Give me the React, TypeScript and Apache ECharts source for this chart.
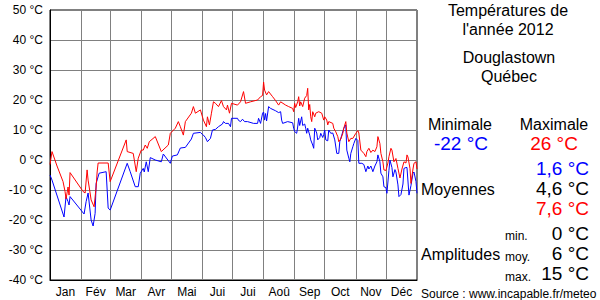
import React, { useEffect, useRef } from "react";
import * as echarts from "echarts";

const monthNames = ["Jan", "Fév", "Mar", "Avr", "Mai", "Jui", "Jui", "Aoû", "Sep", "Oct", "Nov", "Déc"];
const monthStarts = [0, 31, 60, 91, 121, 152, 182, 213, 244, 274, 305, 335, 366];
const yTicks = { min: -40, max: 50, step: 10 };

const maxDays = [0, 2, 7, 13, 15, 16, 18, 19, 20, 33, 35, 37, 38, 40, 41, 44, 46, 47, 48, 58, 60, 76, 77, 83, 86, 88, 91, 93, 95, 97, 99, 105, 111, 118, 120, 125, 128, 130, 133, 135, 141, 143, 145, 150, 153, 156, 157, 159, 161, 163, 165, 168, 171, 173, 176, 177, 179, 181, 187, 190, 193, 195, 200, 207, 210, 212, 213, 214, 216, 218, 222, 225, 228, 230, 235, 238, 242, 243, 244, 245, 247, 248, 249, 250, 252, 254, 256, 257, 258, 259, 260, 261, 262, 264, 265, 268, 271, 273, 274, 276, 277, 278, 282, 283, 285, 287, 288, 290, 292, 293, 295, 296, 298, 300, 302, 305, 307, 308, 310, 313, 315, 316, 318, 320, 322, 324, 326, 327, 329, 330, 332, 333, 335, 337, 338, 340, 341, 343, 345, 347, 349, 351, 353, 355, 356, 357, 359, 360, 362, 363, 365, 366];
const maxVals = [-1.5, 2.8, -2, -7.2, -10.5, -13, -9, -11.7, -4.2, -10.5, -11, -3.3, -6.7, -11, -13.3, -15.6, -9, -4, -1, -1, -7.2, 6.7, 2.8, 2.2, -3.9, 0.6, 3.3, 3.3, 5, 3.9, 6.1, 7.8, 2.8, 5, 8.9, 10.6, 12.8, 11.1, 8.3, 12.8, 15.6, 17.8, 15.6, 16.7, 13.3, 11.1, 14.4, 11.7, 15.6, 19.4, 18.9, 17.8, 19.8, 17.8, 16.7, 18.3, 15.6, 18.9, 18.3, 19.4, 22.8, 18.9, 19.4, 20, 21.1, 21.5, 26, 23.3, 21.7, 22.8, 21.1, 19.8, 18.3, 19.4, 18.3, 17.8, 17.2, 16.1, 18.9, 17.5, 19.4, 21.1, 18, 19.4, 17.8, 20.6, 21.5, 23.9, 16.7, 18.5, 14.4, 12.8, 16.1, 14.4, 15.6, 16.1, 15.6, 13.3, 14.4, 13.3, 11.7, 12.8, 12.2, 10.6, 9.4, 7.8, 6.1, 7, 8.9, 10.6, 12.8, 9, 6.1, 7.2, 7.2, 8.9, 9.8, 9, 3.3, 2.2, 1.1, 2.8, 3.9, 2.5, 3.3, 2.8, 4.4, 7.8, 5.5, 2.2, -0.6, -3.3, -3.5, -1, 1.1, 3.9, 3.3, -0.6, 0.5, -2.8, -6, -3, -0.6, -1, 1.7, 1, -2.8, -7.8, -3, -1.1, -0.6, -3];

const minDays = [0, 2, 14, 16, 18, 19, 20, 34, 36, 38, 41, 43, 45, 46, 49, 56, 58, 60, 77, 80, 85, 88, 90, 93, 94, 96, 98, 100, 105, 111, 113, 120, 122, 127, 130, 135, 141, 143, 150, 152, 153, 155, 157, 160, 162, 165, 168, 172, 173, 175, 178, 180, 181, 187, 188, 190, 192, 194, 197, 203, 207, 208, 210, 212, 213, 214, 215, 216, 218, 220, 225, 228, 230, 231, 232, 237, 242, 243, 244, 246, 247, 248, 249, 251, 252, 254, 255, 256, 257, 259, 260, 262, 263, 264, 266, 267, 269, 270, 272, 273, 274, 275, 277, 278, 280, 282, 284, 286, 288, 289, 291, 293, 295, 296, 298, 299, 300, 302, 303, 305, 307, 308, 311, 313, 315, 317, 318, 320, 322, 324, 326, 327, 329, 330, 332, 333, 335, 336, 338, 339, 341, 342, 344, 345, 347, 348, 350, 352, 353, 355, 356, 358, 360, 362, 363, 365, 366];
const minVals = [-5, -6.7, -19, -12.2, -13.9, -15, -12.2, -18, -13.9, -11, -20, -22, -17.8, -7.8, -4.4, -3.9, -16, -16.7, -1.1, -3.9, -8.9, -8.9, -4.4, -2.8, -4, -0.6, -3.9, 0.8, 0, -0.6, 2, -1.1, 1.3, 1.7, 4, 4.2, 7, 8.9, 9.2, 8.5, 8.3, 7.5, 6.1, 7.2, 10, 10.2, 11.1, 12, 12.8, 12.2, 12.2, 11.1, 13.9, 13.9, 13.2, 12.8, 13.6, 12.8, 12.8, 12.2, 12.2, 13.9, 12.2, 15.6, 16, 13.3, 15.5, 13, 17.8, 17.2, 16.4, 15.8, 16.1, 13.3, 12.2, 12.8, 12.4, 10.6, 9.5, 8.9, 11, 13.9, 11.5, 14.4, 11.5, 12, 10.6, 8.9, 10.6, 8.3, 6.7, 5, 3.9, 10.6, 9, 6.7, 7.5, 8.9, 7.5, 8.5, 10, 6.7, 6.4, 10, 8.9, 9, 6.7, 2.2, 2.2, 6.1, 8.3, 10.6, 11.7, 3.3, 0.6, -0.6, 2.2, 4.4, 5.5, 7.2, 6.5, -1.1, -1.1, -1.5, -3.9, -2, -3, -2, -3.9, -2, -0.6, 1.7, -0.6, -4.4, -5.6, -8.9, -9.2, -11.1, -3.5, 0, -2.5, -5.6, -3.2, -4, -8.3, -12.2, -11.5, -8, -2.8, -2.5, -2.5, -11.7, -8.5, -4.4, -4, -7.2, -11.1];

const FONT = '"Liberation Sans", Arial, Helvetica, sans-serif';

function zip(a: number[], b: number[]) {
  return a.map((d, i) => [d, b[i]]);
}

function txt(text: string, x: number, y: number, size: number, fill: string, align: string) {
  return {
    type: "text",
    style: { text, x, y, fill, fontSize: size, fontFamily: FONT, align, verticalAlign: "middle" },
  };
}

export default function App() {
  const ref = useRef<HTMLDivElement>(null);
  useEffect(() => {
    document.body.style.margin = "0";
    const chart = echarts.init(ref.current!, null, { renderer: "svg" });
    const midMonths = monthStarts.slice(0, 12).map((s, i) => (s + monthStarts[i + 1]) / 2);
    chart.setOption({
      animation: false,
      backgroundColor: "#fff",
      grid: { left: 50, right: 183, top: 10, bottom: 20, show: true, borderColor: "#000", borderWidth: 1 },
      xAxis: {
        type: "value",
        min: 0,
        max: 366,
        axisLine: { show: true, onZero: false, lineStyle: { color: "#000", width: 1 } },
        axisTick: { show: false, customValues: monthStarts },
        splitLine: { show: true, lineStyle: { color: "#808080", width: 1 } },
        axisLabel: {
          customValues: midMonths,
          formatter: (v: number) => monthNames[midMonths.indexOf(v)] ?? "",
          color: "#000",
          fontSize: 12,
          fontFamily: FONT,
          margin: 6,
        },
      },
      yAxis: {
        type: "value",
        min: yTicks.min,
        max: yTicks.max,
        interval: yTicks.step,
        axisLine: { show: true, lineStyle: { color: "#000", width: 1 } },
        axisTick: { show: false },
        splitLine: { show: true, lineStyle: { color: "#808080", width: 1 } },
        axisLabel: { formatter: "{value} °C", color: "#000", fontSize: 12, fontFamily: FONT, margin: 7 },
      },
      series: [
        {
          type: "line",
          data: zip(minDays, minVals),
          showSymbol: false,
          lineStyle: { color: "#0000ff", width: 1 },
          z: 3,
        },
        {
          type: "line",
          data: zip(maxDays, maxVals),
          showSymbol: false,
          lineStyle: { color: "#ff0000", width: 1 },
          z: 3,
        },
      ],
      graphic: [
        txt("Températures de", 508, 10, 16, "#000", "center"),
        txt("l'année 2012", 508, 29, 16, "#000", "center"),
        txt("Douglastown", 509, 57, 16, "#000", "center"),
        txt("Québec", 509, 76, 16, "#000", "center"),
        txt("Minimale", 460, 124, 16, "#000", "center"),
        txt("Maximale", 554, 124, 16, "#000", "center"),
        txt("-22 °C", 461, 143, 19, "#0000ff", "center"),
        txt("26 °C", 554, 143, 19, "#ff0000", "center"),
        txt("1,6 °C", 589, 168, 19, "#0000ff", "right"),
        txt("Moyennes", 421, 189, 16, "#000", "left"),
        txt("4,6 °C", 589, 188, 19, "#000", "right"),
        txt("7,6 °C", 589, 208, 19, "#ff0000", "right"),
        txt("min.", 505, 236, 12, "#000", "left"),
        txt("0 °C", 589, 233, 19, "#000", "right"),
        txt("Amplitudes", 421, 254, 16, "#000", "left"),
        txt("moy.", 505, 257, 12, "#000", "left"),
        txt("6 °C", 589, 253, 19, "#000", "right"),
        txt("max.", 505, 277, 12, "#000", "left"),
        txt("15 °C", 589, 273, 19, "#000", "right"),
        txt("Source : www.incapable.fr/meteo", 421, 294, 12, "#000", "left"),
      ],
    });
    return () => chart.dispose();
  }, []);
  return <div ref={ref} style={{ width: 600, height: 300, position: "absolute", left: 0, top: 0 }} />;
}
